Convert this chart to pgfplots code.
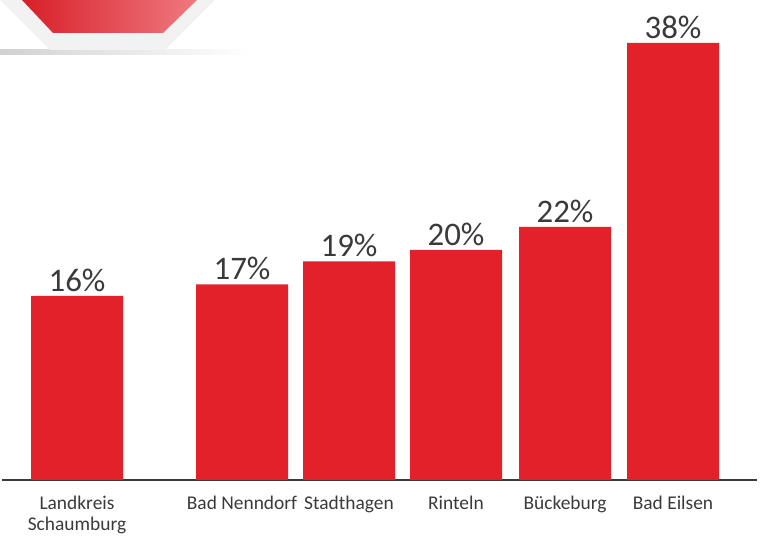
\documentclass[border=0pt]{standalone}
\usepackage{pgfplots}
\pgfplotsset{compat=1.18}
\usepackage{fontspec}
\setmainfont{Carlito}
\definecolor{barred}{HTML}{E3212A}
\definecolor{txt}{HTML}{3A3A3A}
\begin{document}
\begin{tikzpicture}[x=1bp,y=1bp]
\useasboundingbox (0,0) rectangle (763,540);
% decorative sign at the top left
\shade[left color=black!18, right color=white] (0,485) rectangle (250,490);
\fill[black!5] (0,540) -- (50,490) -- (165,490) -- (215,540) -- cycle;
\shade[left color=barred!95!black, right color=barred!60!white] (22,540) -- (53,507) -- (163,507) -- (197,540) -- cycle;
\begin{axis}[
  at={(2bp,60bp)}, anchor=south west,
  scale only axis, width=755bp, height=480bp,
  xmin=2, xmax=757, ymin=0, ymax=41.74,
  clip=false,
  axis x line=bottom, axis y line=none,
  x axis line style={-, color=txt, line width=1.5pt},
  xtick={77,242,349,456,565,673},
  xticklabels={{Landkreis\\Schaumburg}, Bad Nenndorf, Stadthagen, Rinteln, Bückeburg, Bad Eilsen},
  xticklabel style={align=center, font=\fontsize{19.5}{21.5}\selectfont, text=txt, yshift=-12bp},
  major tick length=0pt,
  /pgf/number format/assume math mode=true,
  ybar, bar width=92,
  nodes near coords={\pgfmathprintnumber{\pgfplotspointmeta}\%},
  nodes near coords style={font=\fontsize{33}{33}\selectfont, text=txt, yshift=1bp},
]
\addplot[fill=barred, draw=none] coordinates {(77,16) (242,17) (349,19) (456,20) (565,22) (673,38)};
\end{axis}
\end{tikzpicture}
\end{document}
